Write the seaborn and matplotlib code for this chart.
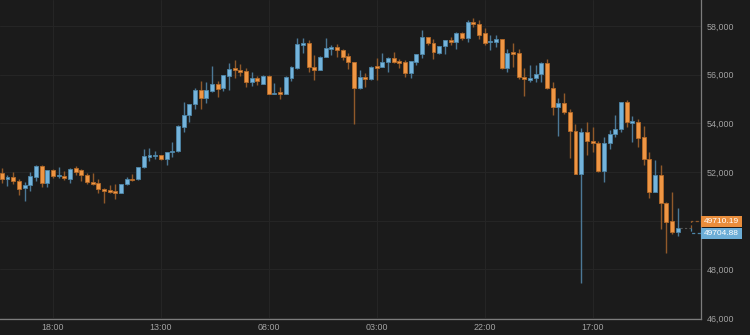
import numpy as np
import pandas as pd
import matplotlib
matplotlib.use("Agg")
import matplotlib.pyplot as plt
import matplotlib.transforms as mtransforms
from matplotlib.patches import Rectangle
import seaborn as sns

# ---------------- data (hourly OHLC) ----------------
opens = [51960, 51725, 51783, 51643, 51331, 51454, 51808, 52260, 51536, 52083,
         51836, 51849, 51713, 52153, 52095, 51878, 51590, 51536, 51314, 51261,
         51232, 51150, 51495, 51713, 51701, 52194, 52630, 52671, 52700, 52535,
         52802, 52864, 53863, 54343, 54783, 55383, 55030, 55342, 55605, 55441,
         55934, 56263, 56205, 56152, 55687, 55852, 55630, 55959, 55207, 55301,
         55207, 55852, 56288, 57221, 57290, 56316, 56193, 56740, 57068, 57138,
         57027, 56756, 56509, 55441, 55918, 55823, 56357, 56329, 56509, 56699,
         56563, 56509, 56057, 56534, 56838, 57537, 57315, 56879, 57179, 57426,
         57331, 57726, 57496, 58166, 58084, 57701, 57331, 57356, 57455, 56263,
         56920, 56879, 55905, 55794, 55852, 56016, 56468, 55466, 54685, 54837,
         54479, 53686, 51931, 53632, 53287, 53205, 52054, 53180, 53550, 53781,
         54865, 54027, 54068, 53427, 52523, 51191, 51878, 50739, 49999, 49522]

closes = [51713, 51783, 51643, 51302, 51454, 51836, 52260, 51536, 52083, 51836,
          51878, 51767, 52137, 52001, 51878, 51577, 51520, 51302, 51232, 51191,
          51150, 51508, 51701, 51658, 52194, 52638, 52700, 52712, 52515, 52811,
          52876, 53904, 54343, 54783, 55383, 55030, 55359, 55618, 55412, 55975,
          56246, 56205, 56123, 55687, 55852, 55729, 55959, 55207, 55260, 55219,
          55893, 56329, 57262, 57290, 56304, 56205, 56740, 57085, 57151, 57003,
          56740, 56509, 55441, 55893, 55835, 56329, 56288, 56534, 56699, 56534,
          56468, 56082, 56563, 56838, 57562, 57290, 56920, 57179, 57426, 57356,
          57726, 57496, 58178, 58071, 57644, 57315, 57385, 57455, 56263, 56879,
          56851, 55893, 55835, 55876, 56016, 56468, 55441, 54685, 54837, 54479,
          53686, 51931, 53632, 53275, 53193, 52054, 53205, 53563, 53781, 54865,
          54068, 54097, 53386, 52523, 51191, 51878, 50714, 49958, 49547, 49710]

highs = [52165, 51878, 52013, 51700, 51602, 52013, 52280, 52290, 52100, 52124,
         52194, 52042, 52150, 52247, 52137, 51947, 51947, 51701, 51330, 51466,
         51495, 51520, 51808, 51906, 52206, 52934, 52975, 52864, 52712, 52823,
         53246, 53920, 54865, 54800, 55441, 55741, 55687, 56357, 55741, 55990,
         56468, 56604, 56427, 56263, 56123, 55959, 55970, 55970, 55646, 55507,
         55946, 56370, 57521, 57521, 57426, 56810, 56750, 57496, 57221, 57249,
         57040, 56879, 56534, 56193, 56082, 56340, 56674, 56879, 56710, 56945,
         56633, 56604, 56575, 56850, 57837, 57550, 57455, 57190, 57440, 57537,
         57740, 57740, 58248, 58330, 58248, 57907, 57632, 57632, 57470, 57056,
         57303, 57056, 56263, 56399, 56399, 56534, 56645, 55712, 55054, 55235,
         54590, 53961, 53797, 54068, 53863, 53287, 53452, 53727, 54343, 54880,
         54960, 54302, 54167, 53891, 52835, 52494, 52289, 50750, 51191, 50509]

lows = [51549, 51425, 51508, 51055, 50809, 51232, 51643, 51397, 51397, 51742,
        51742, 51672, 51536, 51890, 51643, 51520, 51466, 51125, 50739, 51125,
        50879, 51125, 51466, 51643, 51684, 52180, 52465, 52535, 52494, 52289,
        52630, 52823, 53632, 54068, 54590, 54590, 54824, 55277, 55096, 55342,
        55371, 55876, 55959, 55507, 55548, 55577, 55618, 55190, 55195, 55001,
        55190, 55753, 56234, 56879, 56123, 55782, 56180, 56730, 56810, 56727,
        56604, 56234, 53974, 55420, 55507, 55782, 55782, 56320, 56123, 56468,
        56263, 55918, 55852, 56399, 56699, 57221, 56633, 56870, 56838, 57221,
        57044, 57426, 57356, 57948, 57479, 57221, 57015, 57151, 56250, 56099,
        56329, 55823, 55137, 55687, 55712, 55712, 55412, 54343, 53493, 54372,
        52564, 51920, 47426, 52700, 52811, 52013, 51577, 52934, 53452, 53657,
        53838, 53246, 53041, 52289, 50920, 51180, 49646, 48659, 49453, 49370]

start_time = "2021-05-18 09:00"
tick_start = "2021-05-18 18:00"
tick_step = "19h"
n_ticks = 6
y_ticks = [46000, 48000, 50000, 52000, 54000, 56000, 58000]
last_ask = 49710.19
last_bid = 49704.88

# ---------------- styling ----------------
BG = "#1b1b1b"
GRID = "#252525"
AXIS = "#7c7c7c"
TXT = "#a3a3a3"
UP = "#74b4dc"
UP_EDGE = "#4d86a8"
UP_WICK = "#4c7896"
DN = "#ef9644"
DN_EDGE = "#b56a28"
DN_WICK = "#91592a"

sns.set_theme(style="dark")
plt.rcParams["font.family"] = ["Liberation Sans", "DejaVu Sans"]

df = pd.DataFrame({"open": opens, "high": highs, "low": lows, "close": closes})
df["time"] = pd.date_range(start_time, periods=len(df), freq="h")
df["x"] = np.arange(len(df))
df["up"] = df["close"] >= df["open"]

FW, FH = 750, 335
ax_w_frac, ax_b_frac, ax_h_frac = 0.9347, 0.0478, 0.9522
YMIN, YMAX = 45959, 59070
XMIN, XMAX = -0.32, 123.1

fig = plt.figure(figsize=(FW / 100, FH / 100), dpi=100, facecolor=BG)
ax = fig.add_axes([0.0, ax_b_frac, ax_w_frac, ax_h_frac])
ax.set_facecolor(BG)

# wicks
for up, wc in [(True, UP_WICK), (False, DN_WICK)]:
    d = df[df["up"] == up]
    ax.vlines(d["x"], d["low"], d["high"], color=wc, linewidth=1.0, zorder=2)

# bodies
for up, fc, ec in [(True, UP, UP_EDGE), (False, DN, DN_EDGE)]:
    d = df[df["up"] == up]
    bottom = np.minimum(d["open"], d["close"])
    height = np.maximum(np.abs(d["close"] - d["open"]), 12)
    ax.bar(d["x"], height, bottom=bottom, width=0.7, color=fc,
           edgecolor=ec, linewidth=0.6, zorder=3)

ax.set_xlim(XMIN, XMAX)
ax.set_ylim(YMIN, YMAX)

# x ticks
tick_times = pd.date_range(tick_start, periods=n_ticks, freq=tick_step)
tick_pos = pd.DatetimeIndex(df["time"]).get_indexer(tick_times)
ax.set_xticks(tick_pos)
ax.set_xticklabels(tick_times.strftime("%H:%M"))

# last-price geometry
last_x = df["x"].iloc[-1]
last_close = df["close"].iloc[-1]
px_y = (YMAX - YMIN) / (ax_h_frac * FH)   # data units per pixel (y)
px_x = 1.0 / (ax_w_frac * FW)             # axes fraction per pixel (x)
y_top = last_close + 6.5 * px_y
y_bot = last_close - 5.5 * px_y
box_h = 10.8 * px_y

# y ticks on right; labels hidden behind the price boxes are left blank
ax.yaxis.tick_right()
ax.set_yticks(y_ticks)
covered_lo = y_bot - box_h
covered_hi = y_top + box_h
ax.set_yticklabels(["" if covered_lo < v < covered_hi else f"{v:,}" for v in y_ticks])

ax.tick_params(axis="both", length=0, labelsize=6.4, colors=TXT)
ax.tick_params(axis="x", pad=3)
ax.tick_params(axis="y", pad=4)

ax.grid(True, color=GRID, linewidth=0.8)
for s in ["top", "left"]:
    ax.spines[s].set_visible(False)
for s in ["right", "bottom"]:
    ax.spines[s].set_visible(True)
    ax.spines[s].set_color(AXIS)
    ax.spines[s].set_linewidth(0.9)

# dashed leader lines
x_bend = 121.3
ax.plot([last_x + 0.45, x_bend], [last_close, last_close], color="#555555",
        linestyle=(0, (2, 2)), linewidth=0.8, zorder=4, clip_on=False)
ax.plot([x_bend, x_bend, XMAX], [last_close, y_top, y_top], color=DN_WICK,
        linestyle=(0, (2.5, 2)), linewidth=0.9, zorder=4, clip_on=False)
ax.plot([x_bend, x_bend, XMAX], [last_close, y_bot, y_bot], color=UP_EDGE,
        linestyle=(0, (2.5, 2)), linewidth=0.9, zorder=4, clip_on=False)

trans = mtransforms.blended_transform_factory(ax.transAxes, ax.transData)
box_w = 41 * px_x
for yc, val, col in [(y_top, last_ask, "#e98d3c"), (y_bot, last_bid, "#6cadd6")]:
    ax.add_patch(Rectangle((1.0, yc - box_h / 2), box_w, box_h, transform=trans,
                           facecolor=col, edgecolor="none", clip_on=False, zorder=5))
    ax.text(1.0 + box_w / 2, yc, f"{val:.2f}", transform=trans, ha="center",
            va="center", fontsize=6.0, color="white", clip_on=False, zorder=6)

fig.savefig("out.png", dpi=100, facecolor=BG)
